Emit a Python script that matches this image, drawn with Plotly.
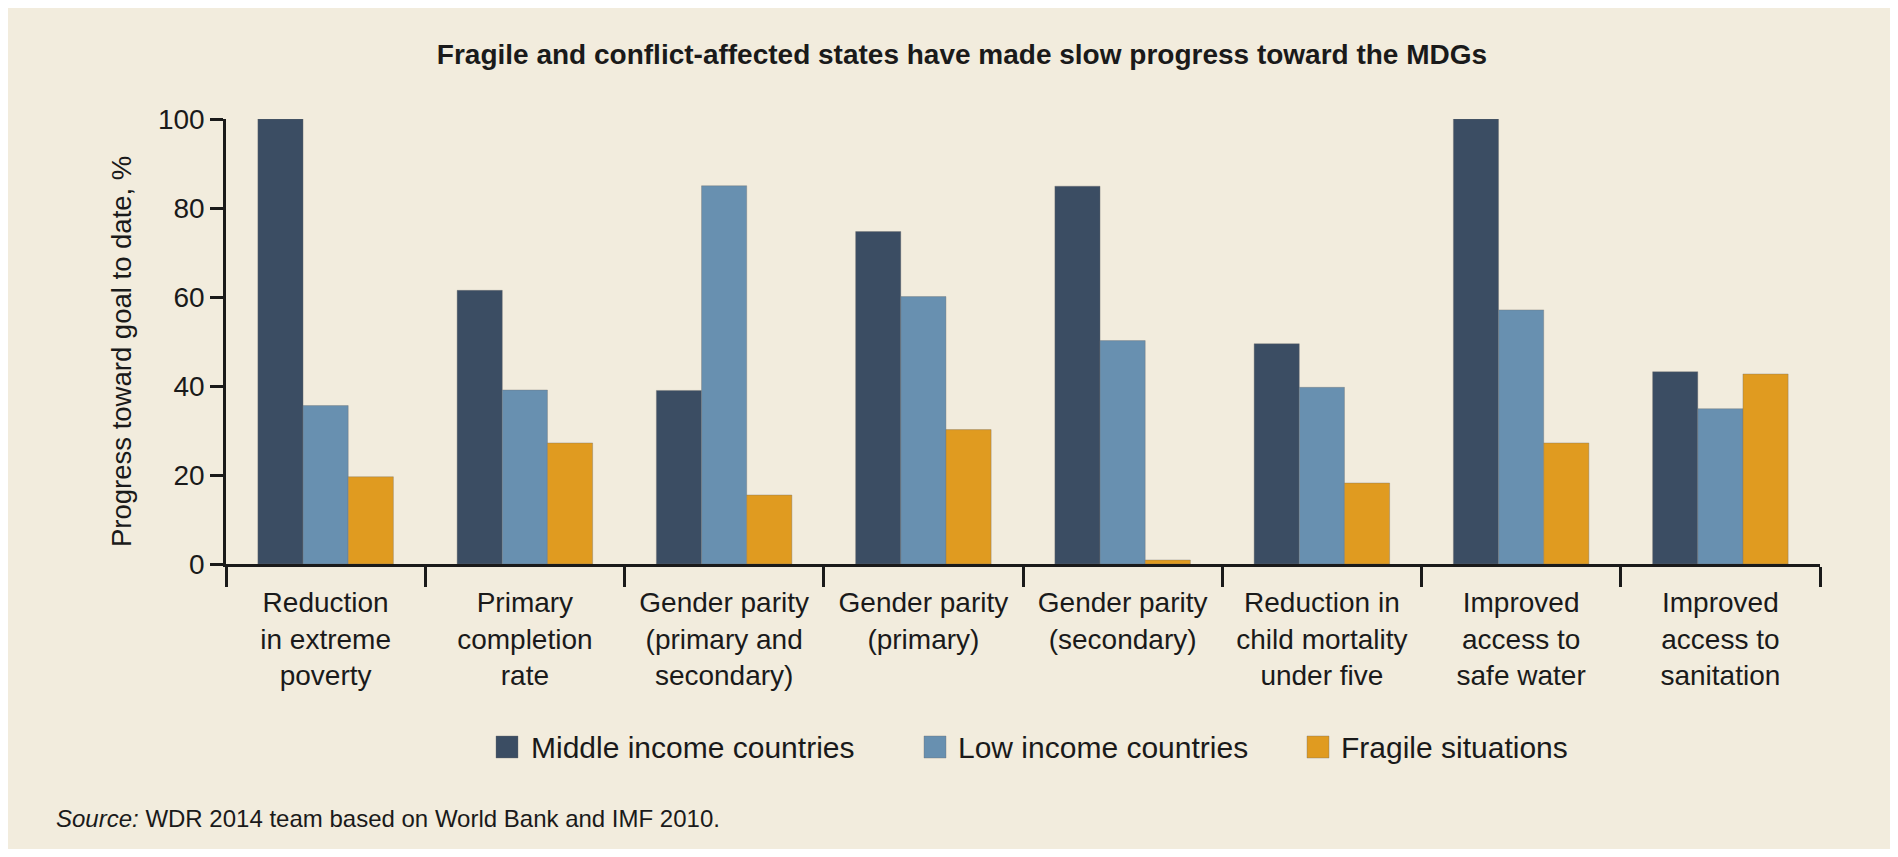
import plotly.graph_objects as go

categories = [
    "Reduction<br>in extreme<br>poverty",
    "Primary<br>completion<br>rate",
    "Gender parity<br>(primary and<br>secondary)",
    "Gender parity<br>(primary)",
    "Gender parity<br>(secondary)",
    "Reduction in<br>child mortality<br>under five",
    "Improved<br>access to<br>safe water",
    "Improved<br>access to<br>sanitation",
]
middle_income = [100, 61.5, 39, 74.7, 84.9, 49.5, 100, 43.2]
low_income = [35.6, 39.1, 85, 60.1, 50.2, 39.7, 57.1, 34.9]
fragile = [19.6, 27.2, 15.5, 30.2, 0.9, 18.2, 27.2, 42.7]
series_names = ["Middle income countries", "Low income countries", "Fragile situations"]
colors = ["#3b4d63", "#6890b0", "#e09b20"]
y_ticks = [0, 20, 40, 60, 80, 100]

FONT = "Liberation Sans, Arial, sans-serif"
TXT = "#1a1a1a"
# page offset of the figure (body margin) and figure size
OFF = 8
W, H = 1890, 841
# plot area in page coordinates
X0, X1, Y0, Y1 = 226, 1820, 119, 564
L, R = X0 - OFF, W - (X1 - OFF)
T, B = Y0 - OFF, H - (Y1 - OFF)
PW, PH = X1 - X0, Y1 - Y0

def px(x):
    return (x - X0) / PW

def py(y):
    return (Y1 - y) / PH

fig = go.Figure()
for name, vals, col in zip(series_names, [middle_income, low_income, fragile], colors):
    fig.add_trace(go.Bar(
        x=categories, y=vals, name=name, showlegend=False,
        marker=dict(color=col, line=dict(color="rgba(110,110,110,0.45)", width=0.8)),
    ))

shapes = []
annotations = []
legend_sq = [496, 924, 1307]
legend_tx = [529, 956, 1339]
ly = 747
for name, col, sx, tx in zip(series_names, colors, legend_sq, legend_tx):
    shapes.append(dict(type="rect", xref="paper", yref="paper",
                       x0=px(sx), x1=px(sx + 22), y0=py(ly + 11), y1=py(ly - 11),
                       fillcolor=col, line=dict(color="rgba(110,110,110,0.45)", width=0.8)))
    annotations.append(dict(xref="paper", yref="paper", x=px(tx), y=py(ly),
                            xanchor="left", yanchor="middle", showarrow=False,
                            text=name, font=dict(family=FONT, size=30, color=TXT)))

annotations.append(dict(xref="paper", yref="paper", x=px(54), y=py(819),
                        xanchor="left", yanchor="middle", showarrow=False,
                        text="<i>Source:</i> WDR 2014 team based on World Bank and IMF 2010.",
                        font=dict(family=FONT, size=24, color=TXT)))
annotations.append(dict(xref="paper", yref="paper", x=px(121), y=py(352),
                        xanchor="center", yanchor="middle", showarrow=False, textangle=-90,
                        text="Progress toward goal to date, %",
                        font=dict(family=FONT, size=27.5, color=TXT)))

fig.update_layout(
    width=W, height=H,
    margin=dict(l=L, r=R, t=T, b=B, autoexpand=False),
    paper_bgcolor="#f2ecdd", plot_bgcolor="rgba(0,0,0,0)",
    barmode="group", bargap=0.32, bargroupgap=0,
    title=dict(text="<b>Fragile and conflict-affected states have made slow progress toward the MDGs</b>",
               x=(962 - OFF) / W, xanchor="center", y=1 - (54 - OFF) / H, yanchor="middle",
               font=dict(family=FONT, size=28, color=TXT)),
    shapes=shapes, annotations=annotations,
    font=dict(family=FONT, color=TXT),
)
fig.update_xaxes(
    type="category", showline=True, linecolor=TXT, linewidth=2.5,
    ticks="outside", tickson="boundaries", ticklen=20, tickwidth=2.5, tickcolor=TXT,
    ticklabelstandoff=12,
    tickfont=dict(family=FONT, size=28, color=TXT), showgrid=False, automargin=False,
)
fig.update_yaxes(
    range=[0, 100], tickvals=y_ticks, showline=True, linecolor=TXT, linewidth=2.5,
    ticks="outside", ticklen=13, tickwidth=2.5, tickcolor=TXT,
    tickfont=dict(family=FONT, size=28, color=TXT), showgrid=False, zeroline=False,
    automargin=False,
)
fig.write_html("out.html")
